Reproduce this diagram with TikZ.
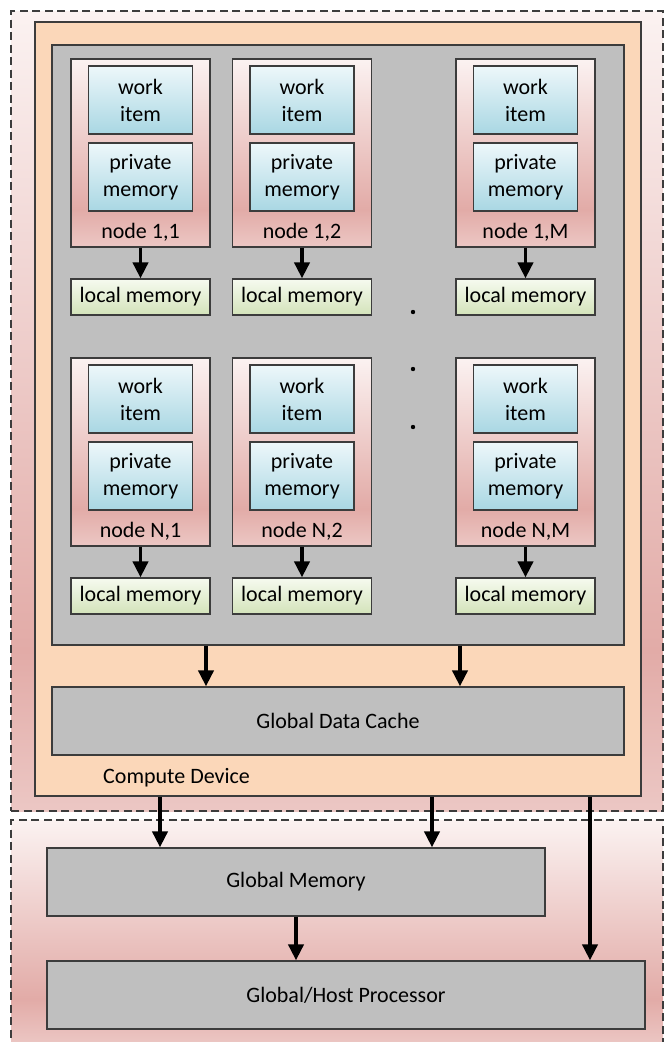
\documentclass[tikz,border=0pt]{standalone}
\usepackage{fontspec}
\setmainfont{Carlito}
\usetikzlibrary{arrows.meta}

\definecolor{pinktop}{HTML}{FBF2F1}
\definecolor{pinkmid}{HTML}{E2ABA7}
\definecolor{pinkbot}{HTML}{ECC7C4}
\definecolor{peach}{HTML}{FBD7B9}
\definecolor{boxgray}{HTML}{BFBFBF}
\definecolor{edgegray}{HTML}{3C3C3C}
\definecolor{bluetop}{HTML}{EDF7FA}
\definecolor{bluebot}{HTML}{A9D7E3}
\definecolor{greentop}{HTML}{F6FAEF}
\definecolor{greenbot}{HTML}{D3E3BA}
\pgfdeclareverticalshading{pinkfade}{100bp}{color(0bp)=(pinkbot); color(25bp)=(pinkbot); color(35bp)=(pinkmid); color(75bp)=(pinktop); color(100bp)=(pinktop)}

\begin{document}
\begin{tikzpicture}[x=1pt,y=-1pt,>={Triangle[length=16pt,width=15pt]},
  txt/.style={font=\fontsize{22}{27}\selectfont,align=center,inner sep=0pt},
  region/.style={draw=edgegray,line width=1.4pt,dash pattern=on 8pt off 4.5pt,shade,shading=pinkfade,inner sep=0pt},
  plain/.style={draw=edgegray,line width=1.2pt,inner sep=0pt,txt},
  cell/.style={plain,shade,shading=pinkfade,minimum width=139pt,minimum height=188pt},
  itembox/.style={plain,top color=bluetop,bottom color=bluebot,minimum width=104pt,minimum height=68pt},
  localbox/.style={plain,top color=greentop,bottom color=greenbot,minimum width=139pt,minimum height=36pt},
  flow/.style={->,line width=3.8pt}]
\useasboundingbox (0,0) rectangle (665,1042);
% outer regions
\node[region,minimum width=652pt,minimum height=800pt] (top) at (337,411) {};
\node[region,minimum width=652pt,minimum height=224pt] (bottom) at (337,932) {};
\node[plain,fill=peach,minimum width=606pt,minimum height=774pt] (device) at (338,409) {};
\node[plain,fill=boxgray,minimum width=572pt,minimum height=600pt] (grid) at (338,345) {};
\node[plain,fill=boxgray,minimum width=572pt,minimum height=68pt] (cache) at (338,721) {Global Data Cache};
\node[txt,anchor=west] (devlabel) at (103,778) {Compute Device};
\node[plain,fill=boxgray,minimum width=498pt,minimum height=68pt] (gmem) at (296,882) {Global Memory};
\node[plain,fill=boxgray,minimum width=598pt,minimum height=68pt] (host) at (346,995) {Global/Host Processor};
% first row
\node[cell] (n11) at (140.5,153) {};
\node[itembox] (w11) at (140.5,100) {work\\item};
\node[itembox] (p11) at (140.5,177) {private\\memory};
\node[txt] (l11) at (140.5,232) {node 1,1};
\node[localbox] (m11) at (140.5,297) {local memory};
\node[cell] (n12) at (302,153) {};
\node[itembox] (w12) at (302,100) {work\\item};
\node[itembox] (p12) at (302,177) {private\\memory};
\node[txt] (l12) at (302,232) {node 1,2};
\node[localbox] (m12) at (302,297) {local memory};
\node[cell] (n1M) at (525.5,153) {};
\node[itembox] (w1M) at (525.5,100) {work\\item};
\node[itembox] (p1M) at (525.5,177) {private\\memory};
\node[txt] (l1M) at (525.5,232) {node 1,M};
\node[localbox] (m1M) at (525.5,297) {local memory};
% last row
\node[cell] (nN1) at (140.5,452) {};
\node[itembox] (wN1) at (140.5,399) {work\\item};
\node[itembox] (pN1) at (140.5,476) {private\\memory};
\node[txt] (lN1) at (140.5,531) {node N,1};
\node[localbox] (mN1) at (140.5,596) {local memory};
\node[cell] (nN2) at (302,452) {};
\node[itembox] (wN2) at (302,399) {work\\item};
\node[itembox] (pN2) at (302,476) {private\\memory};
\node[txt] (lN2) at (302,531) {node N,2};
\node[localbox] (mN2) at (302,596) {local memory};
\node[cell] (nNM) at (525.5,452) {};
\node[itembox] (wNM) at (525.5,399) {work\\item};
\node[itembox] (pNM) at (525.5,476) {private\\memory};
\node[txt] (lNM) at (525.5,531) {node N,M};
\node[localbox] (mNM) at (525.5,596) {local memory};
% dots
\coordinate (d1) at (413,312);
\coordinate (d2) at (413,369);
\coordinate (d3) at (413,427);
\fill (d1) circle (2.2pt);
\fill (d2) circle (2.2pt);
\fill (d3) circle (2.2pt);
% arrows
\coordinate (x1) at (206,0);
\coordinate (x2) at (460,0);
\coordinate (x3) at (160,0);
\coordinate (x4) at (432,0);
\coordinate (x5) at (590,0);
\draw[flow] (n11) -- (m11);
\draw[flow] (n12) -- (m12);
\draw[flow] (n1M) -- (m1M);
\draw[flow] (nN1) -- (mN1);
\draw[flow] (nN2) -- (mN2);
\draw[flow] (nNM) -- (mNM);
\draw[flow] (grid.south -| x1) -- (cache.north -| x1);
\draw[flow] (grid.south -| x2) -- (cache.north -| x2);
\draw[flow] (device.south -| x3) -- (gmem.north -| x3);
\draw[flow] (device.south -| x4) -- (gmem.north -| x4);
\draw[flow] (device.south -| x5) -- (host.north -| x5);
\draw[flow] (gmem.south) -- (gmem.south |- host.north);
\end{tikzpicture}
\end{document}
